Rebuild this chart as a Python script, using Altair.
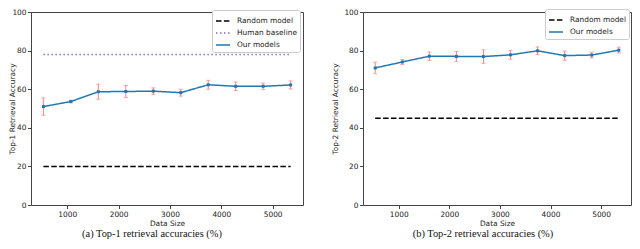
import altair as alt
import pandas as pd

sizes = [535, 1070, 1605, 2140, 2675, 3210, 3745, 4280, 4815, 5350]

top1_mean = [51.0, 53.6, 58.7, 58.8, 59.0, 58.2, 62.3, 61.5, 61.5, 62.2]
top1_err = [4.5, 0.7, 3.9, 3.1, 1.7, 1.8, 2.3, 2.2, 1.7, 2.1]
top1_random = 20.0
top1_human = 78.0

top2_mean = [71.0, 74.1, 77.1, 77.0, 76.9, 77.8, 79.9, 77.4, 77.7, 80.2]
top2_err = [3.0, 1.3, 2.2, 2.6, 3.5, 2.3, 2.0, 2.4, 1.5, 1.5]
top2_random = 45.0

x_ticks = [1000, 2000, 3000, 4000, 5000]
y_ticks = [0, 20, 40, 60, 80, 100]

series_names = ["Random model", "Human baseline", "Our models"]
series_colors = ["#000000", "#9467bd", "#1f77b4"]
series_dashes = [[5.5, 2.4], [1.5, 2.5], [1, 0]]

captions = ["(a) Top-1 retrieval accuracies (%)", "(b) Top-2 retrieval accuracies (%)"]
ytitles = ["Top-1 Retrieval Accuracy", "Top-2 Retrieval Accuracy"]

FONT = "DejaVu Sans"
FS = 7.4
H = 193


def panel(mean, err, random_val, human_val, ytitle, caption, legend_x, legend_y, title_x, width, cap_dx):
    rows = []
    for s, m in zip(sizes, mean):
        rows.append({"size": s, "val": m, "series": "Our models"})
    for s in sizes:
        rows.append({"size": s, "val": random_val, "series": "Random model"})
    names = ["Random model", "Our models"]
    if human_val is not None:
        for s in sizes:
            rows.append({"size": s, "val": human_val, "series": "Human baseline"})
        names = series_names
    lines_df = pd.DataFrame(rows)
    err_df = pd.DataFrame({
        "size": sizes,
        "mean": mean,
        "lo": [m - e for m, e in zip(mean, err)],
        "hi": [m + e for m, e in zip(mean, err)],
    })
    colors = [series_colors[series_names.index(n)] for n in names]
    dashes = [series_dashes[series_names.index(n)] for n in names]

    xsc = alt.Scale(domain=[294, 5591], nice=False, zero=False)
    ysc = alt.Scale(domain=[0, 100], nice=False)
    xax = alt.Axis(values=x_ticks, format="d", title="Data Size", tickCount=5,
                   grid=False, tickSize=3.5, labelPadding=1.5, titlePadding=2,
                   labelFontSize=FS, titleFontSize=FS, labelFont=FONT, titleFont=FONT,
                   titleFontWeight="normal", labelColor="#222", titleColor="#222",
                   domain=False, tickColor="#444", labelFlush=False, labelOverlap=False)
    yax = alt.Axis(values=y_ticks, format="d", title=ytitle, grid=False, tickCount=6,
                   tickSize=3.5, labelPadding=1.5, labelFontSize=FS, titleFontSize=FS,
                   labelFont=FONT, titleFont=FONT, titleFontWeight="normal",
                   labelColor="#222", titleColor="#222", domain=False, tickColor="#444",
                   titleX=title_x, titleY=H / 2, titleAnchor="middle", labelFlush=False,
                   labelOverlap=False)

    def X(f):
        return alt.X(f, type="quantitative", scale=xsc, axis=xax)

    def Y(f):
        return alt.Y(f, type="quantitative", scale=ysc, axis=yax)

    base_e = alt.Chart(err_df)
    ebars = base_e.mark_rule(color="#ff8080", strokeWidth=1).encode(
        x=X("size"), y=Y("lo"), y2="hi:Q")
    cap_lo = base_e.mark_tick(color="#ff8080", orient="horizontal", size=4, thickness=1).encode(
        x=X("size"), y=Y("lo"))
    cap_hi = base_e.mark_tick(color="#ff8080", orient="horizontal", size=4, thickness=1).encode(
        x=X("size"), y=Y("hi"))

    legend = alt.Legend(title=None, orient="none", legendX=legend_x, legendY=legend_y,
                        symbolType="stroke", symbolSize=196, symbolStrokeWidth=1.5,
                        labelFont=FONT, labelFontSize=FS, labelColor="#222",
                        fillColor="white", strokeColor="#cccccc", cornerRadius=2,
                        padding=3, rowPadding=-3.5, labelOffset=6)
    lines = alt.Chart(lines_df).mark_line(strokeWidth=1.5).encode(
        x=X("size"),
        y=Y("val"),
        color=alt.Color("series:N", scale=alt.Scale(domain=names, range=colors), legend=legend),
        strokeDash=alt.StrokeDash("series:N", scale=alt.Scale(domain=names, range=dashes), legend=legend),
        detail="series:N",
    )
    pts = alt.Chart(err_df).mark_point(filled=True, size=9, shape="square", color="#1f77b4", opacity=1).encode(
        x=X("size"), y=Y("mean"))

    return alt.layer(ebars, cap_lo, cap_hi, lines, pts).properties(
        width=width, height=H,
        title=alt.TitleParams(caption, orient="bottom", anchor="middle", dx=cap_dx, offset=2.5,
                              font="Liberation Serif", fontSize=10.4, fontWeight="normal",
                              color="#111"),
    ).resolve_scale(color="independent", strokeDash="independent")


left = panel(top1_mean, top1_err, top1_random, top1_human, ytitles[0], captions[0], 181, -2, -15, 272, -15)
right = panel(top2_mean, top2_err, top2_random, None, ytitles[1], captions[1], 182, -3, -24, 268, -14)

chart = alt.hconcat(left, right, spacing=60, bounds="flush").resolve_scale(
    color="independent", strokeDash="independent", x="independent", y="independent"
).resolve_legend(color="independent", strokeDash="independent").properties(
    padding={"left": -1, "top": -1, "right": 0, "bottom": -1.5},
).configure_view(stroke="#444", strokeWidth=1).configure_axis(labelFont=FONT)

chart.save("out.html", embed_options={"renderer": "svg", "actions": False})
